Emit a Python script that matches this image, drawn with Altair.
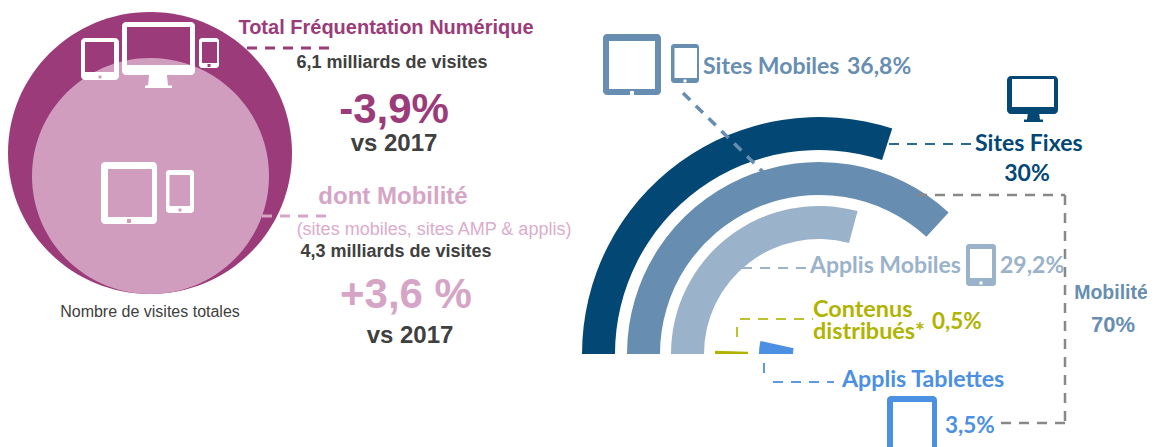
import altair as alt
import pandas as pd

W, H = 1139, 439
# ---------- ring data (share of visits, %)
ring_labels = ["Sites Fixes", "Sites Mobiles", "Applis Mobiles", "Contenus distribués", "Applis Tablettes"]
ring_values = [30, 36.8, 29.2, 0.5, 3.5]
ring_inner = [204, 159, 115, 71, 26]
ring_outer = [237, 192, 148, 104, 60]
ring_colors = ["#034875", "#678eb1", "#9ab2ca", "#b0b400", "#4b90e2"]
ring_cx, ring_cy = 819, 354

# ---------- dashed leader lines: x, y, x2, y2, colour, stroke width
leaders = [
    (247, 48, 329, 48, "#9b3b7a", 3),
    (262, 216, 328, 216, "#d6a5c6", 3),
    (683, 93, 763, 172, "#678eb1", 3.5),
    (889, 144, 975, 144, "#2a6a96", 2),
    (917, 195, 1065, 195, "#888888", 2.5),
    (1065, 195, 1065, 423, "#888888", 2.5),
    (1065, 423, 997, 423, "#888888", 2.5),
    (742, 268, 809, 268, "#9ab2ca", 2),
    (740, 319, 813, 319, "#bcc22e", 2),
    (737, 327, 737, 337, "#bcc22e", 2),
    (764, 363, 764, 373, "#5a9ae0", 2),
    (773, 382, 834, 382, "#5a9ae0", 2),
]

# ---------- texts: x, y, text, size, colour, align, family, weight
SANS, LATO = "Liberation Sans", "Lato"
PURPLE, PINK, GREY = "#9b3b7a", "#d6a5c6", "#404040"
texts = [
    (386, 28, "Total Fréquentation Numérique", 20, PURPLE, "center", SANS, "bold"),
    (392, 63, "6,1 milliards de visites", 18, GREY, "center", SANS, "bold"),
    (394, 110, "-3,9%", 42, PURPLE, "center", SANS, "bold"),
    (394, 144, "vs 2017", 24, GREY, "center", SANS, "bold"),
    (393, 197, "dont Mobilité", 24, PINK, "center", SANS, "bold"),
    (434, 230, "(sites mobiles, sites AMP & applis)", 18, "#dcaccc", "center", SANS, "normal"),
    (396, 252, "4,3 milliards de visites", 18, GREY, "center", SANS, "bold"),
    (406, 295, "+3,6 %", 42, PINK, "center", SANS, "bold"),
    (410, 336, "vs 2017", 24, GREY, "center", SANS, "bold"),
    (150, 312, "Nombre de visites totales", 16, GREY, "center", SANS, "normal"),
    (703, 67, "Sites Mobiles", 23, "#678eb1", "left", LATO, "bold"),
    (847, 67, "36,8%", 23, "#678eb1", "left", LATO, "bold"),
    (975, 144, "Sites Fixes", 23, "#034875", "left", LATO, "bold"),
    (1027, 174, "30%", 23, "#034875", "center", LATO, "bold"),
    (810, 266, "Applis Mobiles", 23, "#9ab2ca", "left", LATO, "bold"),
    (1000, 266, "29,2%", 23, "#9ab2ca", "left", LATO, "bold"),
    (813, 310, "Contenus", 23.4, "#b0b400", "left", LATO, "bold"),
    (813, 332, "distribués*", 23.4, "#b0b400", "left", LATO, "bold"),
    (932, 322, "0,5%", 22.5, "#b0b400", "left", LATO, "bold"),
    (842, 380, "Applis Tablettes", 23.2, "#4b90e2", "left", LATO, "bold"),
    (945, 426, "3,5%", 22.5, "#4b90e2", "left", LATO, "bold"),
    (1111, 293, "Mobilité", 19.5, "#678eb1", "center", SANS, "bold"),
    (1113, 325, "70%", 22, "#678eb1", "center", SANS, "bold"),
]

# ---------- background discs: x0, y0, x1, y1, colour
discs = [
    (8, 12, 292, 294, "#9b3b7a"),
    (32, 58, 269, 294, "#d19dbe"),
]

# ---------- devices: kind, outer box, screen box, dot centre, colour
tablets = [
    ((81, 38, 119, 80), (85, 42, 114, 72), (100, 77), "#ffffff"),
    ((101, 162, 157, 224), (108, 169, 152, 217), (129, 221), "#ffffff"),
    ((603, 34, 661, 95), (609, 41, 655, 89), (632, 93), "#678eb1"),
    ((887, 396, 937, 456), (893, 402, 932, 450), (912, 453), "#4b90e2"),
]
phones = [
    ((199, 38, 219, 68), (202, 42, 217, 63), (209, 65.5), "#ffffff"),
    ((166, 170, 194, 213), (169.5, 175, 190, 206), (180, 210), "#ffffff"),
    ((671, 44, 699, 83), (674.5, 48, 697, 78), (685, 81), "#678eb1"),
    ((966, 244, 996, 286), (970, 249, 992, 278), (981, 283), "#9ab2ca"),
]
monitors = [
    ((122, 22, 195, 75), (127, 27, 190, 65), (148, 168, 88), (145, 172), "#ffffff"),
    ((1007, 76, 1058, 114), (1012, 79, 1054, 107), (1027, 1040, 122), (1024, 1043), "#034875"),
]

K = 0.5523


def rrect(box, r, c, s, hole=False):
    x0, y0, x1, y1 = [(box[0] - c[0]) / s, (box[1] - c[1]) / s, (box[2] - c[0]) / s, (box[3] - c[1]) / s]
    r = r / s
    q = r * (1 - K)
    if not hole:
        return (f"M{x0+r:.4f},{y0:.4f}L{x1-r:.4f},{y0:.4f}C{x1-q:.4f},{y0:.4f} {x1:.4f},{y0+q:.4f} {x1:.4f},{y0+r:.4f}"
                f"L{x1:.4f},{y1-r:.4f}C{x1:.4f},{y1-q:.4f} {x1-q:.4f},{y1:.4f} {x1-r:.4f},{y1:.4f}"
                f"L{x0+r:.4f},{y1:.4f}C{x0+q:.4f},{y1:.4f} {x0:.4f},{y1-q:.4f} {x0:.4f},{y1-r:.4f}"
                f"L{x0:.4f},{y0+r:.4f}C{x0:.4f},{y0+q:.4f} {x0+q:.4f},{y0:.4f} {x0+r:.4f},{y0:.4f}Z")
    return f"M{x0:.4f},{y0:.4f}L{x0:.4f},{y1:.4f}L{x1:.4f},{y1:.4f}L{x1:.4f},{y0:.4f}Z"


def ellipse(box, c, s):
    x0, y0, x1, y1 = [(box[0] - c[0]) / s, (box[1] - c[1]) / s, (box[2] - c[0]) / s, (box[3] - c[1]) / s]
    mx, my = (x0 + x1) / 2, (y0 + y1) / 2
    rx, ry = (x1 - x0) / 2, (y1 - y0) / 2
    return (f"M{x0:.4f},{my:.4f}C{x0:.4f},{my-K*ry:.4f} {mx-K*rx:.4f},{y0:.4f} {mx:.4f},{y0:.4f}"
            f"C{mx+K*rx:.4f},{y0:.4f} {x1:.4f},{my-K*ry:.4f} {x1:.4f},{my:.4f}"
            f"C{x1:.4f},{my+K*ry:.4f} {mx+K*rx:.4f},{y1:.4f} {mx:.4f},{y1:.4f}"
            f"C{mx-K*rx:.4f},{y1:.4f} {x0:.4f},{my+K*ry:.4f} {x0:.4f},{my:.4f}Z")


def frame(box):
    c = ((box[0] + box[2]) / 2, (box[1] + box[3]) / 2)
    s = max(box[2] - box[0], box[3] - box[1]) / 2
    return c, s


shapes = []
for box, col in [(d[:4], d[4]) for d in discs]:
    c, s = frame(box)
    shapes.append(dict(x=c[0], y=c[1], path=ellipse(box, c, s), size=(2 * s) ** 2, fill=col, z=0))
for group, rad in ((tablets, 4), (phones, 3)):
    for box, screen, dot, col in group:
        c, s = frame(box)
        dr = 1.5 if box[2] - box[0] < 45 else 2
        dbox = (dot[0] - dr, dot[1] - dr, dot[0] + dr, dot[1] + dr)
        path = rrect(box, rad, c, s) + rrect(screen, 0, c, s, hole=True)
        # the home button is a small hole in the bezel
        dx0, dy0, dx1, dy1 = [(dbox[0] - c[0]) / s, (dbox[1] - c[1]) / s, (dbox[2] - c[0]) / s, (dbox[3] - c[1]) / s]
        path += f"M{dx0:.4f},{dy0:.4f}L{dx0:.4f},{dy1:.4f}L{dx1:.4f},{dy1:.4f}L{dx1:.4f},{dy0:.4f}Z"
        shapes.append(dict(x=c[0], y=c[1], path=path, size=(2 * s) ** 2, fill=col, z=1))
for box, screen, stand, base, col in monitors:
    full = (box[0], box[1], box[2], stand[2])
    c, s = frame(full)
    path = rrect(box, 4, c, s) + rrect(screen, 0, c, s, hole=True)
    sx0, sx1, sy = [(stand[0] - c[0]) / s, (stand[1] - c[0]) / s, (stand[2] - c[1]) / s]
    ty = (box[3] - c[1]) / s
    bx0, bx1 = (base[0] - c[0]) / s, (base[1] - c[0]) / s
    by = sy - 2.5 / s
    path += (f"M{sx0+0.03:.4f},{ty:.4f}L{sx1-0.03:.4f},{ty:.4f}L{sx1:.4f},{by:.4f}L{bx1:.4f},{by:.4f}"
             f"L{bx1:.4f},{sy:.4f}L{bx0:.4f},{sy:.4f}L{bx0:.4f},{by:.4f}L{sx0:.4f},{by:.4f}Z")
    shapes.append(dict(x=c[0], y=c[1], path=path, size=(2 * s) ** 2, fill=col, z=1))
shapes_df = pd.DataFrame(shapes)

# ---------- scales: the chart area maps 1:1 to picture pixels
xs = alt.Scale(domain=[8, 8 + W], range=[0, W], nice=False, zero=False)
ys = alt.Scale(domain=[8, 8 + H], range=[0, H], nice=False, zero=False)
X = alt.X("x:Q", scale=xs, axis=None)
Y = alt.Y("y:Q", scale=ys, axis=None)


def shape_layer(df):
    return alt.Chart(df).mark_point(filled=True, opacity=1, strokeWidth=0).encode(
        x=X, y=Y,
        shape=alt.Shape("path:N", scale=None),
        size=alt.Size("size:Q", scale=None),
        fill=alt.Fill("fill:N", scale=None),
    )


ring_df = pd.DataFrame(dict(label=ring_labels, v=ring_values, r0=ring_inner, r1=ring_outer, color=ring_colors))
ring_df["x"], ring_df["y"], ring_df["start"] = ring_cx, ring_cy, 0

rings = alt.Chart(ring_df).mark_arc().encode(
    x=X, y=Y,
    theta=alt.Theta("start:Q", stack=None, scale=alt.Scale(domain=[0, 100], range=[-1.5707963, 4.712389])),
    theta2="v:Q",
    radius=alt.Radius("r1:Q", scale=None),
    radius2="r0:Q",
    fill=alt.Fill("color:N", scale=None),
)

lead_df = pd.DataFrame(leaders, columns=["x", "y", "x2", "y2", "color", "w"])
lines = alt.Chart(lead_df).mark_rule(strokeDash=[10, 8]).encode(
    x=X, y=Y, x2="x2:Q", y2="y2:Q",
    stroke=alt.Stroke("color:N", scale=None),
    strokeWidth=alt.StrokeWidth("w:Q", scale=None),
)

text_df = pd.DataFrame(texts, columns=["x", "y", "t", "s", "c", "a", "f", "w"])
text_layers = []
for (fam, wt, al), g in text_df.groupby(["f", "w", "a"]):
    text_layers.append(
        alt.Chart(g).mark_text(font=fam, fontWeight=wt, align=al, baseline="middle").encode(
            x=X, y=Y, text="t:N",
            size=alt.Size("s:Q", scale=None),
            color=alt.Color("c:N", scale=None),
        )
    )

chart = alt.layer(
    shape_layer(shapes_df[shapes_df.z == 0]),
    rings,
    lines,
    shape_layer(shapes_df[shapes_df.z == 1]),
    *text_layers,
).properties(width=W, height=H, padding=0, background="white", autosize=alt.AutoSizeParams(type="none")
).configure_view(stroke=None)

chart.save("out.html", embed_options={"renderer": "svg", "actions": False})
